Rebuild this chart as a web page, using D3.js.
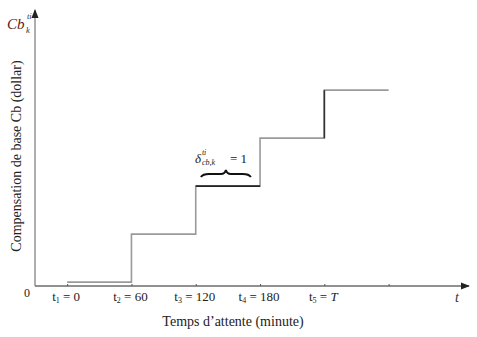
<!DOCTYPE html>
<html>

<head>
  <title>Compensation de base</title>
  <script src="https://cdn.jsdelivr.net/npm/d3@7/dist/d3.min.js"></script>
  <style>
    body { margin: 0; background: #fff; }
    text { font-family: "Liberation Serif", "DejaVu Serif", serif; }
  </style>
</head>

<body>
  <svg width="477" height="337" id="mainsvg"></svg>
  <script>
    // data
    const times = [0, 60, 120, 180, 240, 300];
    const levels = [0.08, 1.08, 2.08, 3.08, 4.08, 4.08];
    const tickNames = [["t", "1", " = 0"], ["t", "2", " = 60"], ["t", "3", " = 120"], ["t", "4", " = 180"], ["t", "5", " = T"], null];
    const highlighted = [2]; // step drawn darker (t3 -> t4)

    const svg = d3.select('#mainsvg');
    const x = d3.scaleLinear().domain([-30, 375]).range([35, 469]);
    const y = d3.scaleLinear().domain([0, 5.75]).range([286, 10]);

    const defs = svg.append('defs');
    defs.append('marker')
      .attr('id', 'arrow')
      .attr('viewBox', '0 0 10 10')
      .attr('refX', 9).attr('refY', 5)
      .attr('markerWidth', 9).attr('markerHeight', 9)
      .attr('markerUnits', 'userSpaceOnUse')
      .attr('orient', 'auto')
      .append('path').attr('d', 'M0,1 L10,5 L0,9 Z').attr('fill', '#222');

    // x axis
    const xAxis = svg.append('g')
      .attr('transform', `translate(0, ${y(0)})`)
      .call(d3.axisBottom(x).tickValues(times).tickSize(2).tickFormat(''));
    xAxis.select('.domain').attr('stroke', '#222').attr('d', `M${x(-30)},0H${x(375)}`)
      .attr('marker-end', 'url(#arrow)');
    xAxis.selectAll('.tick line').attr('stroke', '#555').attr('y2', -2);

    // y axis
    svg.append('line')
      .attr('x1', x(-30)).attr('y1', y(0))
      .attr('x2', x(-30)).attr('y2', y(5.75))
      .attr('stroke', '#777').attr('stroke-width', 1.2)
      .attr('marker-end', 'url(#arrow)');

    // step line
    const pts = times.map((t, i) => [t, levels[i]]);
    const line = d3.line().x(d => x(d[0])).y(d => y(d[1])).curve(d3.curveStepAfter);
    svg.append('path')
      .attr('d', line(pts))
      .attr('fill', 'none').attr('stroke', '#9a9a9a').attr('stroke-width', 1.6);

    svg.selectAll('.hl')
      .data(highlighted)
      .join('path')
      .attr('class', 'hl')
      .attr('d', i => line([pts[i], [times[i + 1], levels[i]]]))
      .attr('fill', 'none').attr('stroke', '#222').attr('stroke-width', 1.6);
    svg.append('path')
      .attr('d', line([[times[4], levels[3]], [times[4], levels[4]]]))
      .attr('stroke', '#333').attr('stroke-width', 1.6);

    // tick labels
    const lab = svg.selectAll('.tlab')
      .data(times.map((t, i) => ({ t, n: tickNames[i] })).filter(d => d.n))
      .join('text')
      .attr('class', 'tlab')
      .attr('x', d => x(d.t) - 1)
      .attr('y', 301)
      .attr('text-anchor', 'middle')
      .attr('font-size', 13)
      .attr('fill', '#222');
    lab.append('tspan').text(d => d.n[0]);
    lab.append('tspan').attr('font-size', 8).attr('dy', 2).text(d => d.n[1]);
    lab.append('tspan').attr('dy', -2).html(d => d.n[2].endsWith('T')
      ? d.n[2].slice(0, -1) + '<tspan font-style="italic">T</tspan>' : d.n[2]);

    // axis titles
    svg.append('text')
      .attr('x', 233).attr('y', 326)
      .attr('text-anchor', 'middle').attr('font-size', 14).attr('fill', '#222')
      .text('Temps d\u2019attente (minute)');
    svg.append('text')
      .attr('transform', `translate(21, 156) rotate(-90)`)
      .attr('text-anchor', 'middle').attr('font-size', 14).attr('fill', '#222')
      .text('Compensation de base Cb (dollar)');
    svg.append('text')
      .attr('x', 27).attr('y', 297).attr('text-anchor', 'middle')
      .attr('font-size', 12).attr('fill', '#222').text('0');
    svg.append('text')
      .attr('x', 455).attr('y', 302).attr('font-size', 14).attr('font-style', 'italic')
      .attr('fill', '#333').text('t');

    // Cb_k^ti label
    svg.append('text').attr('x', 7).attr('y', 29).attr('fill', '#5a1a1a')
      .attr('font-style', 'italic').attr('font-size', 15).text('Cb');
    svg.append('text').attr('x', 27).attr('y', 19).attr('fill', '#333')
      .attr('font-style', 'italic').attr('font-size', 8.5).text('ti');
    svg.append('text').attr('x', 26).attr('y', 33).attr('fill', '#333')
      .attr('font-style', 'italic').attr('font-size', 8.5).text('k');

    // delta annotation
    const mid = (x(times[2]) + x(times[3])) / 2 - 2;
    svg.append('text').attr('x', mid - 31).attr('y', 163).attr('fill', '#222')
      .attr('font-size', 13).attr('font-style', 'italic').text('\u03b4');
    svg.append('text').attr('x', mid - 24).attr('y', 155).attr('fill', '#222')
      .attr('font-size', 8).attr('font-style', 'italic').text('ti');
    svg.append('text').attr('x', mid - 24).attr('y', 165).attr('fill', '#222')
      .attr('font-size', 8).attr('font-style', 'italic').text('cb,k');
    svg.append('text').attr('x', mid + 4).attr('y', 163).attr('fill', '#222')
      .attr('font-size', 13).text('= 1');

    const by = 174;
    const bl = mid - 25, br = mid + 25;
    svg.append('path')
      .attr('d', `M${bl},${by + 3} Q${bl + 2},${by} ${bl + 8},${by} L${mid - 5},${by} Q${mid - 1},${by} ${mid},${by - 4}
                  Q${mid + 1},${by} ${mid + 5},${by} L${br - 8},${by} Q${br - 2},${by} ${br},${by + 3}`)
      .attr('fill', 'none').attr('stroke', '#111').attr('stroke-width', 2);
  </script>
</body>

</html>
